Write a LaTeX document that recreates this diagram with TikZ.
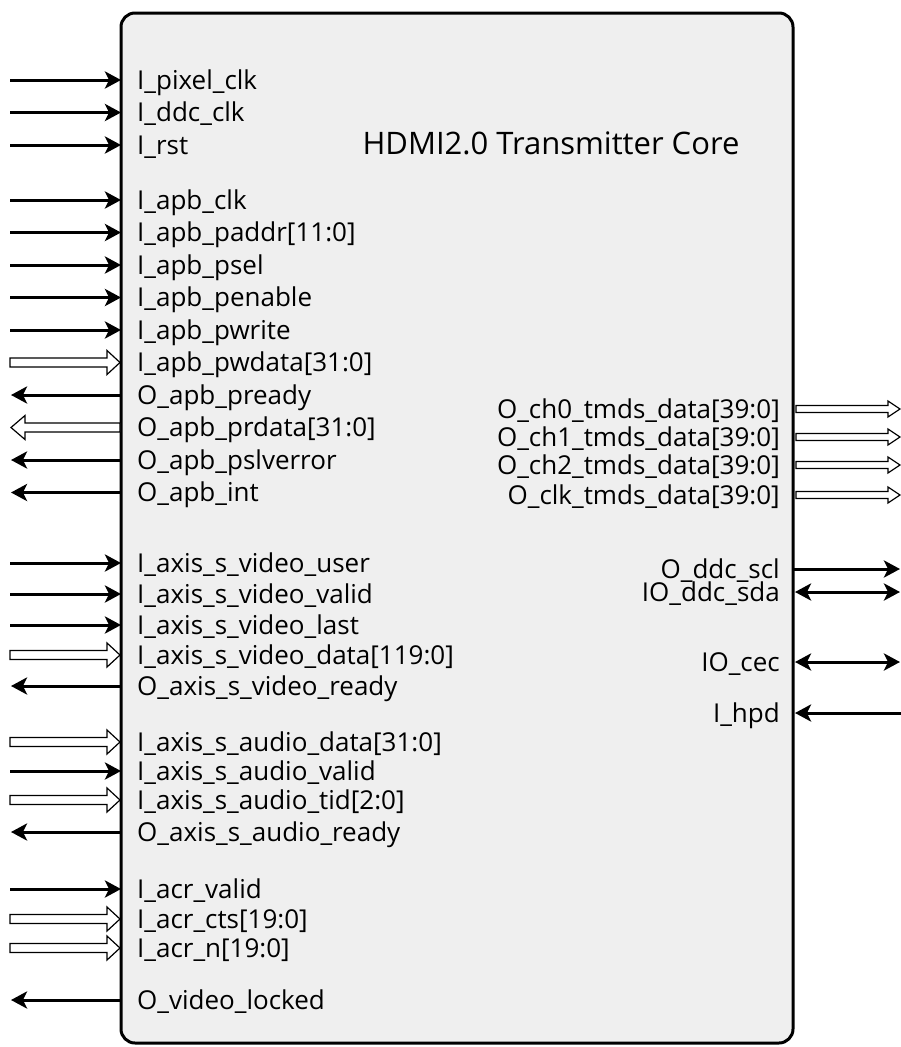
\documentclass[tikz,border=0pt]{standalone}
\usepackage{fontspec}
\setmainfont{Open Sans}
\usetikzlibrary{arrows.meta}
\definecolor{boxfill}{HTML}{EFEFEF}
\tikzset{
  tipst/.tip={Stealth[length=16pt,width=17pt,inset=4pt]},
  sig/.style={line width=3pt, -tipst},
  bisig/.style={line width=3pt, tipst-tipst},
  bus/.style={draw=black, fill=white, line width=1.2pt, line join=miter},
  lbl/.style={font=\fontsize{26}{26}\selectfont, inner sep=0pt},
  ttl/.style={font=\fontsize{31}{31}\selectfont, inner sep=0pt},
  core/.style={draw=black, line width=3pt, fill=boxfill, rounded corners=14pt},
}
% left side pins: name, y, text
\newcommand\pinIn[3]{%
  \node[lbl, anchor=base west] (#1) at (137,#2+9.3) {#3};
  \coordinate (#1s) at (10,#2);
  \coordinate (#1e) at (121,#2);
  \draw[sig] (#1s) -- (#1e);}
\newcommand\pinOut[3]{%
  \node[lbl, anchor=base west] (#1) at (137,#2+9.3) {#3};
  \coordinate (#1s) at (121,#2);
  \coordinate (#1e) at (11,#2);
  \draw[sig] (#1s) -- (#1e);}
\newcommand\busIn[3]{%
  \node[lbl, anchor=base west] (#1) at (137,#2+9.3) {#3};
  \draw[bus] (10,#2-4.5) -- (107,#2-4.5) -- (107,#2-12) -- (120,#2)
     -- (107,#2+12) -- (107,#2+4.5) -- (10,#2+4.5) -- cycle;}
\newcommand\busOut[3]{%
  \node[lbl, anchor=base west] (#1) at (137,#2+9.3) {#3};
  \draw[bus] (120,#2-4.5) -- (25,#2-4.5) -- (25,#2-12) -- (11,#2)
     -- (25,#2+12) -- (25,#2+4.5) -- (120,#2+4.5) -- cycle;}
% right side pins
\newcommand\rbusOut[3]{%
  \node[lbl, anchor=base east] (#1) at (780,#2+9.3) {#3};
  \draw[bus] (796,#2-3.5) -- (888,#2-3.5) -- (888,#2-8) -- (900,#2)
     -- (888,#2+8) -- (888,#2+3.5) -- (796,#2+3.5) -- cycle;}
\newcommand\rpinOut[3]{%
  \node[lbl, anchor=base east] (#1) at (780,#2+9.3) {#3};
  \coordinate (#1s) at (794,#2);
  \coordinate (#1e) at (900,#2);
  \draw[sig] (#1s) -- (#1e);}
\newcommand\rpinBi[3]{%
  \node[lbl, anchor=base east] (#1) at (780,#2+9.3) {#3};
  \coordinate (#1s) at (795,#2);
  \coordinate (#1e) at (900,#2);
  \draw[bisig] (#1s) -- (#1e);}
\newcommand\rpinIn[3]{%
  \node[lbl, anchor=base east] (#1) at (780,#2+9.3) {#3};
  \coordinate (#1s) at (901,#2);
  \coordinate (#1e) at (795,#2);
  \draw[sig] (#1s) -- (#1e);}

\begin{document}
\begin{tikzpicture}[x=1pt,y=-1pt]
\useasboundingbox (0,0) rectangle (901,1047);
\draw[core] (121,13) rectangle (793,1043);
\node[ttl, anchor=base] (title) at (551,154) {HDMI2.0 Transmitter Core};

\pinIn{pclk}{80}{I\_pixel\_clk}
\pinIn{dclk}{112.5}{I\_ddc\_clk}
\pinIn{rst}{145}{I\_rst}
\pinIn{aclk}{200}{I\_apb\_clk}
\pinIn{paddr}{232.5}{I\_apb\_paddr[11:0]}
\pinIn{psel}{265}{I\_apb\_psel}
\pinIn{pen}{297.5}{I\_apb\_penable}
\pinIn{pwr}{330}{I\_apb\_pwrite}
\busIn{pwd}{362.5}{I\_apb\_pwdata[31:0]}
\pinOut{prdy}{395}{O\_apb\_pready}
\busOut{prd}{427.5}{O\_apb\_prdata[31:0]}
\pinOut{perr}{460}{O\_apb\_pslverror}
\pinOut{pint}{492.5}{O\_apb\_int}

\pinIn{vuser}{563}{I\_axis\_s\_video\_user}
\pinIn{vvalid}{594}{I\_axis\_s\_video\_valid}
\pinIn{vlast}{625}{I\_axis\_s\_video\_last}
\busIn{vdata}{655}{I\_axis\_s\_video\_data[119:0]}
\pinOut{vready}{686}{O\_axis\_s\_video\_ready}

\busIn{adata}{742}{I\_axis\_s\_audio\_data[31:0]}
\pinIn{avalid}{771}{I\_axis\_s\_audio\_valid}
\busIn{atid}{800}{I\_axis\_s\_audio\_tid[2:0]}
\pinOut{aready}{832}{O\_axis\_s\_audio\_ready}

\pinIn{acrv}{889}{I\_acr\_valid}
\busIn{acrc}{919}{I\_acr\_cts[19:0]}
\busIn{acrn}{948}{I\_acr\_n[19:0]}
\pinOut{lock}{1000}{O\_video\_locked}

\rbusOut{ch0}{409}{O\_ch0\_tmds\_data[39:0]}
\rbusOut{ch1}{437}{O\_ch1\_tmds\_data[39:0]}
\rbusOut{ch2}{465}{O\_ch2\_tmds\_data[39:0]}
\rbusOut{chc}{495}{O\_clk\_tmds\_data[39:0]}

\rpinOut{scl}{569}{O\_ddc\_scl}
\rpinBi{sda}{592}{IO\_ddc\_sda}
\rpinBi{cec}{662}{IO\_cec}
\rpinIn{hpd}{713}{I\_hpd}
\end{tikzpicture}
\end{document}
